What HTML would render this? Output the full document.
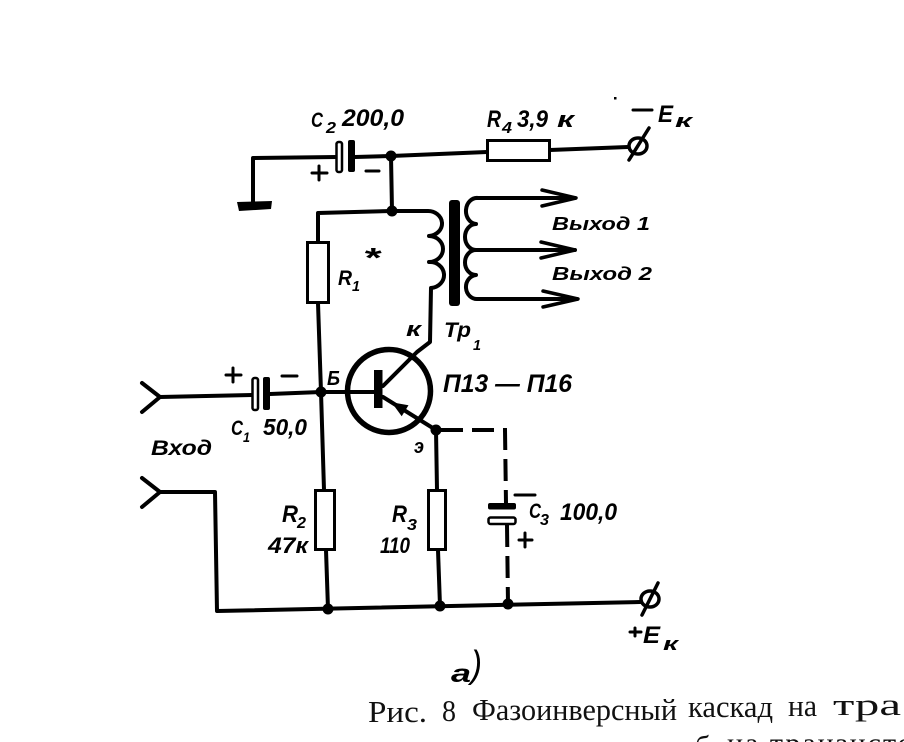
<!DOCTYPE html>
<html><head><meta charset="utf-8">
<style>
html,body{margin:0;padding:0;background:#fff;}
svg{display:block;}
.t{font-family:"Liberation Sans",sans-serif;font-style:italic;font-weight:bold;fill:#000;}
.c{font-family:"Liberation Serif",serif;fill:#111;}
</style></head>
<body>
<svg width="904" height="742" viewBox="0 0 904 742" xmlns="http://www.w3.org/2000/svg">
<rect width="904" height="742" fill="#fff"/>
<g fill="none" stroke="#000" stroke-width="4" stroke-linejoin="round" stroke-linecap="round">
  <path d="M253,205 L253,158 L337,157"/>
  <path d="M355,157 L391,156 L487,152"/>
  <path d="M550,150 L628,147"/>
  <path d="M391,156 L392,211"/>
  <path d="M392,211 L318,213 L318,242"/>
  <path d="M318,303 L321,392"/>
  <path d="M392,211 L427,211 A14 12.5 0 0 1 429,236 A14 13 0 0 1 429,262 A14 13 0 0 1 431,288 L430,342 L417,352 L383,386"/>
  <path d="M575,198 L478,198 A11 13 0 0 0 476,224 A11 13 0 0 0 476,250 A11 12.5 0 0 0 476,275 A11 12 0 0 0 478,299 L577,299"/>
  <path d="M476,250 L575,250"/>
  <path d="M542,190 L576,198 L542,206" stroke-width="3.5"/>
  <path d="M541,242 L575,250 L541,258" stroke-width="3.5"/>
  <path d="M543,291 L578,299 L543,307" stroke-width="3.5"/>
  <path d="M142,383 L160,397 L142,412"/>
  <path d="M160,397 L252,395"/>
  <path d="M270,394 L321,392 L374,392"/>
  <path d="M142,478 L160,492 L142,507"/>
  <path d="M160,492 L215,492 L217,611 L640,602"/>
  <path d="M321,392 L324,490"/>
  <path d="M326,550 L328,609"/>
  <path d="M383,397 L436,430"/>
  <path d="M436,430 L437,490"/>
  <path d="M438,550 L440,606"/>
</g>
<g fill="none" stroke="#000" stroke-width="4" stroke-dasharray="22 9">
  <path d="M441,430 L505,430 L506,504"/>
  <path d="M507,525 L508,604"/>
</g>
<path d="M237,202 L272,201 L271,209 L239,211 Z" fill="#000"/>
<rect x="336.5" y="142" width="5.5" height="30" rx="2" fill="#fff" stroke="#000" stroke-width="2.5"/>
<rect x="348" y="140" width="7" height="32" rx="2" fill="#000"/>
<rect x="487.5" y="140.5" width="62" height="20" fill="#fff" stroke="#000" stroke-width="3"/>
<rect x="307.5" y="242.5" width="21" height="60" fill="#fff" stroke="#000" stroke-width="3"/>
<rect x="449" y="200" width="11" height="106" rx="3" fill="#000"/>
<rect x="252.5" y="378" width="5.5" height="32" rx="2" fill="#fff" stroke="#000" stroke-width="2.5"/>
<rect x="263" y="377" width="7" height="33" rx="2" fill="#000"/>
<rect x="315.5" y="490.5" width="19" height="59" fill="#fff" stroke="#000" stroke-width="3"/>
<rect x="428.5" y="490.5" width="17" height="59" fill="#fff" stroke="#000" stroke-width="3"/>
<rect x="488" y="503" width="28" height="6.5" rx="2" fill="#000"/>
<rect x="488.5" y="517.5" width="27" height="6.5" rx="2" fill="#fff" stroke="#000" stroke-width="2.5"/>
<circle cx="389" cy="391" r="41.5" fill="none" stroke="#000" stroke-width="5.5"/>
<rect x="374" y="370" width="8.5" height="38" fill="#000"/>
<polygon points="391.5,402.3 401.7,416.3 408.5,405.3" fill="#000"/>
<g fill="#000">
  <circle cx="391" cy="156" r="5.5"/>
  <circle cx="392" cy="211" r="5.5"/>
  <circle cx="321" cy="392" r="5.5"/>
  <circle cx="436" cy="430" r="5.5"/>
  <circle cx="328" cy="609" r="5.5"/>
  <circle cx="440" cy="606" r="5.5"/>
  <circle cx="508" cy="604" r="5.5"/>
  <rect x="614" y="97" width="2.5" height="2.5"/>
</g>
<g fill="none" stroke="#000" stroke-width="3.5" stroke-linecap="round">
  <ellipse cx="638" cy="146" rx="9" ry="8"/>
  <path d="M629,160 L649,128"/>
  <ellipse cx="650" cy="599" rx="9" ry="8"/>
  <path d="M642,615 L658,583"/>
  <path d="M633,110 L652,110" stroke-width="3"/>
  <path d="M630,632 L641,632 M635,628 L635,636" stroke-width="3"/>
  <path d="M312,173 L327,173 M319,166 L319,180" stroke-width="3"/>
  <path d="M366,171 L379,171" stroke-width="3"/>
  <path d="M226,375 L241,375 M233,368 L233,382" stroke-width="3"/>
  <path d="M282,376 L297,376" stroke-width="3"/>
  <path d="M515,495 L535,495" stroke-width="3"/>
  <path d="M519,540 L532,540 M525,533 L525,547" stroke-width="3"/>
</g>
<g class="t">
  <text x="311" y="127" font-size="21" textLength="12" lengthAdjust="spacingAndGlyphs">C</text>
  <text x="326" y="133" font-size="16" textLength="10" lengthAdjust="spacingAndGlyphs">2</text>
  <text x="342" y="126" font-size="24" textLength="62" lengthAdjust="spacingAndGlyphs">200,0</text>

  <text x="487" y="127" font-size="24" textLength="14" lengthAdjust="spacingAndGlyphs">R</text>
  <text x="502" y="133" font-size="16" textLength="10" lengthAdjust="spacingAndGlyphs">4</text>
  <text x="517" y="127" font-size="24" textLength="31" lengthAdjust="spacingAndGlyphs">3,9</text>
  <text x="557" y="127" font-size="22" textLength="17" lengthAdjust="spacingAndGlyphs">к</text>

  <text x="658" y="122" font-size="24" textLength="15" lengthAdjust="spacingAndGlyphs">E</text>
  <text x="675" y="127" font-size="18" textLength="17" lengthAdjust="spacingAndGlyphs">к</text>

  <text x="338" y="285" font-size="21" textLength="14" lengthAdjust="spacingAndGlyphs">R</text>
  <text x="352" y="291" font-size="15" textLength="8" lengthAdjust="spacingAndGlyphs">1</text>
  <text x="363" y="267" font-size="28" textLength="17" lengthAdjust="spacingAndGlyphs">*</text>

  <text x="552" y="230" font-size="18" textLength="98" lengthAdjust="spacingAndGlyphs">Выход 1</text>
  <text x="552" y="280" font-size="18" textLength="100" lengthAdjust="spacingAndGlyphs">Выход 2</text>

  <text x="406" y="336" font-size="20" textLength="15" lengthAdjust="spacingAndGlyphs">к</text>
  <text x="444" y="337" font-size="21" textLength="27" lengthAdjust="spacingAndGlyphs">Тр</text>
  <text x="473" y="350" font-size="15" textLength="8" lengthAdjust="spacingAndGlyphs">1</text>

  <text x="443" y="392" font-size="25" textLength="129" lengthAdjust="spacingAndGlyphs">П13 — П16</text>
  <text x="327" y="385" font-size="20" textLength="13" lengthAdjust="spacingAndGlyphs">Б</text>

  <text x="231" y="435" font-size="21" textLength="12" lengthAdjust="spacingAndGlyphs">C</text>
  <text x="243" y="442" font-size="14" textLength="7" lengthAdjust="spacingAndGlyphs">1</text>
  <text x="263" y="435" font-size="23" textLength="44" lengthAdjust="spacingAndGlyphs">50,0</text>

  <text x="151" y="455" font-size="21" textLength="61" lengthAdjust="spacingAndGlyphs">Вход</text>
  <text x="414" y="453" font-size="20" textLength="10" lengthAdjust="spacingAndGlyphs">э</text>

  <text x="282" y="522" font-size="24" textLength="16" lengthAdjust="spacingAndGlyphs">R</text>
  <text x="297" y="528" font-size="16" textLength="9" lengthAdjust="spacingAndGlyphs">2</text>
  <text x="268" y="553" font-size="22" textLength="40" lengthAdjust="spacingAndGlyphs">47к</text>

  <text x="392" y="522" font-size="24" textLength="15" lengthAdjust="spacingAndGlyphs">R</text>
  <text x="407" y="530" font-size="16" textLength="10" lengthAdjust="spacingAndGlyphs">3</text>
  <text x="380" y="553" font-size="22" textLength="30" lengthAdjust="spacingAndGlyphs">110</text>

  <text x="529" y="518" font-size="21" textLength="12" lengthAdjust="spacingAndGlyphs">C</text>
  <text x="540" y="525" font-size="16" textLength="9" lengthAdjust="spacingAndGlyphs">3</text>
  <text x="560" y="520" font-size="24" textLength="57" lengthAdjust="spacingAndGlyphs">100,0</text>

  <text x="643" y="643" font-size="24" textLength="17" lengthAdjust="spacingAndGlyphs">E</text>
  <text x="663" y="650" font-size="18" textLength="15" lengthAdjust="spacingAndGlyphs">к</text>

  <text x="451" y="682" font-size="25" textLength="20" lengthAdjust="spacingAndGlyphs">а</text>
  <text x="471" y="677" font-size="38" font-weight="normal" textLength="11" lengthAdjust="spacingAndGlyphs">)</text>
</g>
<g class="c" font-size="31">
  <text x="368" y="722" textLength="59" lengthAdjust="spacingAndGlyphs">Рис.</text>
  <text x="442" y="721" textLength="14" lengthAdjust="spacingAndGlyphs">8</text>
  <text x="472" y="720" textLength="205" lengthAdjust="spacingAndGlyphs">Фазоинверсный</text>
  <text x="688" y="717" textLength="85" lengthAdjust="spacingAndGlyphs">каскад</text>
  <text x="788" y="716" textLength="29" lengthAdjust="spacingAndGlyphs">на</text>
  <text x="833" y="715" textLength="68" lengthAdjust="spacingAndGlyphs">тра</text>
  <text x="695" y="756" font-size="30">б</text>
  <text x="727" y="753" font-size="30" letter-spacing="2">на транзисторе</text>
</g>
</svg>
</body></html>
